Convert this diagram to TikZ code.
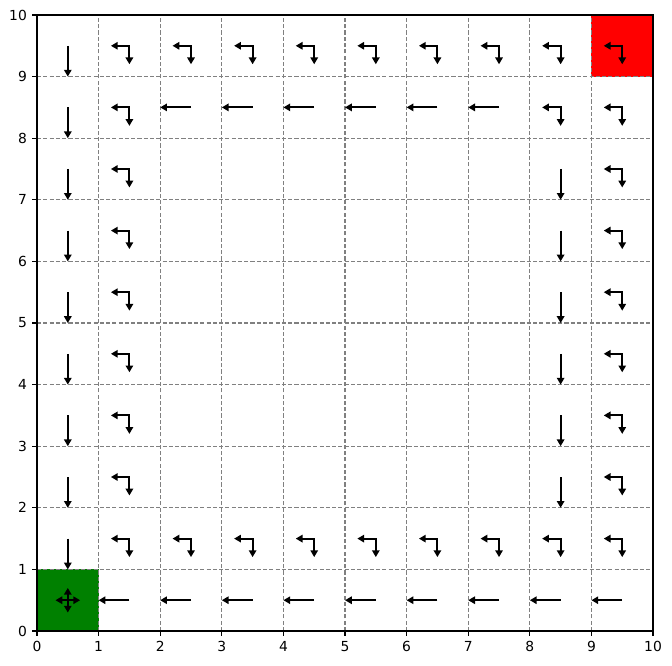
\documentclass[tikz,border=0pt]{standalone}
\usepackage{fontspec}
\setmainfont{DejaVu Sans}
\usetikzlibrary{arrows.meta}
\definecolor{mplgreen}{HTML}{008000}
\begin{document}
\begin{tikzpicture}[x=1cm,y=1cm,
  pol/.style={line width=0.95pt, line join=miter, -{Triangle[length=0.11cm,width=0.12cm]}},
  pol2/.style={line width=0.95pt, line join=miter, {Triangle[length=0.11cm,width=0.12cm]}-{Triangle[length=0.11cm,width=0.12cm]}},
  gridline/.style={draw={rgb,255:red,128;green,128;blue,128}, line width=0.5pt, dash pattern=on 1.9pt off 1pt},
  tickmark/.style={line width=0.5pt},
  lab/.style={font=\fontsize{6.4}{7.5}\selectfont, inner sep=0pt}]
\useasboundingbox (-0.6006,-0.552) rectangle (10.308,10.2435);
\fill[mplgreen] (0,0) rectangle (1,1);
\fill[red] (9,9) rectangle (10,10);
\foreach \i in {1,...,9} {
  \draw[gridline] (\i,0) -- (\i,10);
  \draw[gridline] (0,\i) -- (10,\i);
}
\draw[line width=0.5pt] (0,0) rectangle (10,10);
\foreach \i in {0,...,10} {
  \draw[tickmark] (\i,0) -- (\i,-0.079);
  \draw[tickmark] (0,\i) -- (-0.079,\i);
  \node[lab, anchor=north] (xl\i) at (\i,-0.158) {\i};
  \node[lab, anchor=east] (yl\i) at (-0.158,\i) {\i};
}
% column 0: down arrows in rows 1..9
\foreach \r in {1,...,9} { \draw[pol] (0.5,\r+0.5) -- ++(0,-0.5); }
% row 0: left arrows
\foreach \c in {1,...,9} { \draw[pol] (\c+0.5,0.5) -- ++(-0.5,0); }
% row 8: left arrows in columns 2..7
\foreach \c in {2,...,7} { \draw[pol] (\c+0.5,8.5) -- ++(-0.5,0); }
% column 8: down arrows rows 2..7
\foreach \r in {2,...,7} { \draw[pol] (8.5,\r+0.5) -- ++(0,-0.5); }
% corner arrows
\foreach \c/\r in {1/9,2/9,3/9,4/9,5/9,6/9,7/9,8/9,9/9,
                   1/8,8/8,9/8,
                   1/7,1/6,1/5,1/4,1/3,1/2,
                   9/7,9/6,9/5,9/4,9/3,9/2,
                   1/1,2/1,3/1,4/1,5/1,6/1,7/1,8/1,9/1} {
  \draw[pol2] (\c+0.2,\r+0.5) -- (\c+0.5,\r+0.5) -- (\c+0.5,\r+0.2);
}
% start cell cross
\draw[pol2] (0.3,0.5) -- (0.7,0.5);
\draw[pol2] (0.5,0.3) -- (0.5,0.7);
\end{tikzpicture}
\end{document}
